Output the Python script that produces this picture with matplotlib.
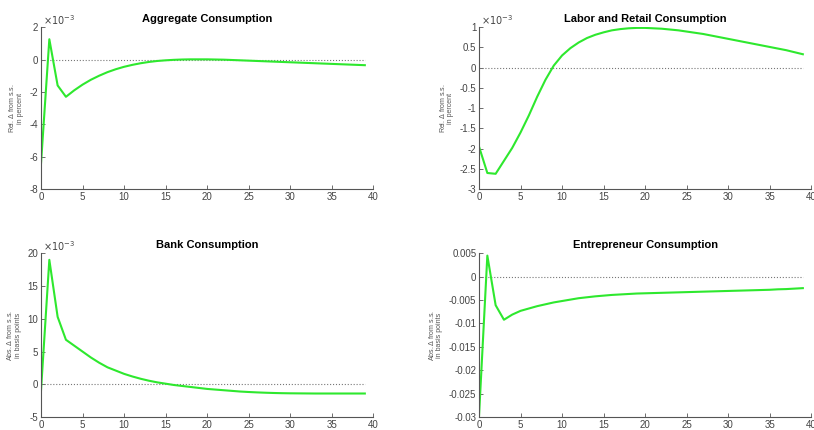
import numpy as np
import matplotlib
matplotlib.use("Agg")
import matplotlib.pyplot as plt
from matplotlib.ticker import FuncFormatter

plt.rcParams["font.family"] = ["Liberation Sans", "DejaVu Sans"]
plt.rcParams["axes.unicode_minus"] = False

periods = np.arange(40)

# impulse responses, 40 quarters
aggregate = np.array([
    -6.4, 1.25, -1.6, -2.3, -1.9, -1.55, -1.25, -1.0, -0.78, -0.6,
    -0.45, -0.33, -0.23, -0.15, -0.09, -0.05, -0.02, 0.0, 0.01, 0.01,
    0.01, 0.0, -0.01, -0.03, -0.05, -0.07, -0.09, -0.11, -0.13, -0.15,
    -0.17, -0.19, -0.21, -0.23, -0.25, -0.27, -0.29, -0.31, -0.33, -0.35,
]) * 1e-3

labor_retail = np.array([
    -1.95, -2.6, -2.62, -2.3, -1.98, -1.6, -1.18, -0.72, -0.3, 0.05,
    0.3, 0.48, 0.62, 0.73, 0.81, 0.87, 0.92, 0.95, 0.97, 0.98,
    0.98, 0.97, 0.96, 0.94, 0.92, 0.89, 0.86, 0.83, 0.79, 0.75,
    0.71, 0.67, 0.63, 0.59, 0.55, 0.51, 0.47, 0.43, 0.38, 0.33,
]) * 1e-3

bank = np.array([
    -0.9, 19.0, 10.3, 6.8, 5.9, 5.0, 4.1, 3.3, 2.6, 2.1,
    1.6, 1.2, 0.85, 0.55, 0.3, 0.1, -0.1, -0.25, -0.4, -0.55,
    -0.7, -0.8, -0.9, -1.0, -1.1, -1.17, -1.23, -1.28, -1.32, -1.35,
    -1.37, -1.38, -1.39, -1.4, -1.4, -1.4, -1.4, -1.4, -1.4, -1.4,
]) * 1e-3

entrepreneur = np.array([
    -29.7, 4.5, -6.1, -9.2, -8.1, -7.3, -6.8, -6.3, -5.9, -5.5,
    -5.2, -4.9, -4.6, -4.4, -4.2, -4.05, -3.9, -3.8, -3.7, -3.6,
    -3.55, -3.5, -3.45, -3.4, -3.35, -3.3, -3.25, -3.2, -3.15, -3.1,
    -3.05, -3.0, -2.95, -2.9, -2.85, -2.8, -2.7, -2.65, -2.55, -2.45,
]) * 1e-3

titles = ["Aggregate Consumption", "Labor and Retail Consumption",
          "Bank Consumption", "Entrepreneur Consumption"]
ylabels = ["Rel. $\\Delta$ from s.s.\nin percent", "Rel. $\\Delta$ from s.s.\nin percent",
           "Abs. $\\Delta$ from s.s.\nin basis points", "Abs. $\\Delta$ from s.s.\nin basis points"]
series = [aggregate, labor_retail, bank, entrepreneur]
ylims = [(-8e-3, 2e-3), (-3e-3, 1e-3), (-5e-3, 20e-3), (-0.03, 0.005)]
ysteps = [2e-3, 0.5e-3, 5e-3, 0.005]
sci = [True, True, True, False]

positions = [
    [0.0504, 0.560, 0.408, 0.377],
    [0.5885, 0.560, 0.408, 0.377],
    [0.0504, 0.030, 0.408, 0.381],
    [0.5885, 0.030, 0.408, 0.381],
]


def clean(v):
    s = "%g" % round(v, 10)
    return "0" if s in ("-0", "0") else s


sci_fmt = FuncFormatter(lambda v, _: clean(v * 1e3))
plain_fmt = FuncFormatter(lambda v, _: clean(v))

axis_grey = "#555555"
label_grey = "#444444"
fig = plt.figure(figsize=(8.14, 4.30), dpi=100)

for pos, y, title, ylab, lim, step, use_sci in zip(
        positions, series, titles, ylabels, ylims, ysteps, sci):
    ax = fig.add_axes(pos)
    ax.plot([0, 39], [0, 0], color="#777777", linestyle=":", linewidth=0.8)
    ax.plot(periods, y, color="#2ee82e", linewidth=1.5)
    ax.set_xlim(0, 40)
    ax.set_ylim(*lim)
    ax.set_xticks(np.arange(0, 41, 5))
    ax.set_yticks(np.arange(lim[0], lim[1] + step / 2, step))
    for side in ["top", "right"]:
        ax.spines[side].set_visible(False)
    for side in ["left", "bottom"]:
        ax.spines[side].set_color(axis_grey)
        ax.spines[side].set_linewidth(0.8)
    ax.tick_params(direction="in", length=3, width=0.6, colors=axis_grey,
                   labelsize=7, labelcolor=label_grey, pad=2)
    if use_sci:
        ax.yaxis.set_major_formatter(sci_fmt)
        ax.text(0.005, 1.0, "$\\times10^{-3}$", transform=ax.transAxes,
                fontsize=7, color=label_grey, ha="left", va="bottom")
    else:
        ax.yaxis.set_major_formatter(plain_fmt)
    ax.set_title(title, fontsize=8, fontweight="bold", pad=4)
    ax.set_ylabel(ylab, fontsize=5, color=axis_grey, labelpad=4, linespacing=1.1)

fig.savefig("out.png", dpi=100)
